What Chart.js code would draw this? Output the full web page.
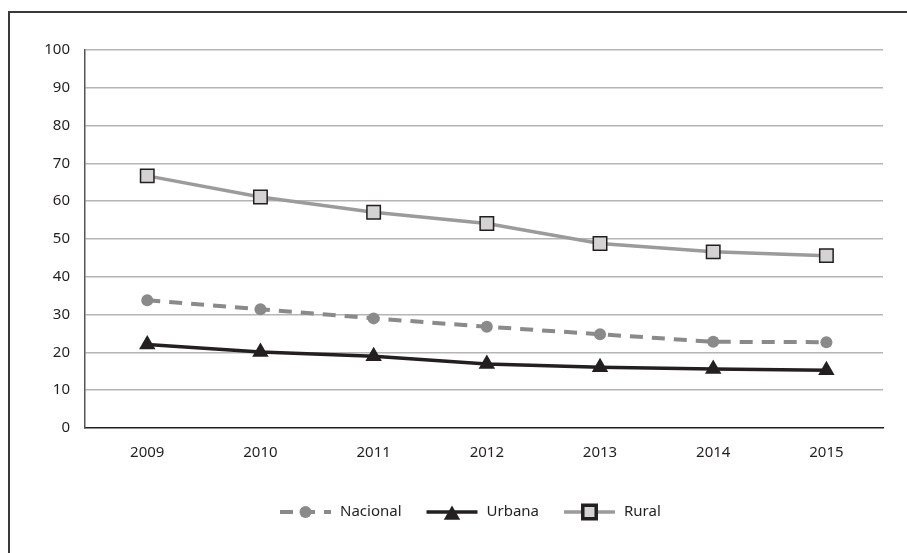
<!DOCTYPE html>
<html lang="es">
<head>
  <meta charset="UTF-8">
  <title>Nacional, Urbana, Rural 2009-2015</title>
  <script src="https://cdn.jsdelivr.net/npm/chart.js"></script>
<style>
  html, body {
    margin: 0;
    padding: 0;
    background: #fff;
  }
  .wrap {
    position: relative;
    width: 907px;
    height: 553px;
    overflow: hidden;
  }
  /* frame of the original figure, cut off on the right and bottom */
  .frame {
    position: absolute;
    left: 8px;
    top: 11px;
    width: 920px;
    height: 560px;
    border-left: 2px solid #3a3a3a;
    border-top: 2px solid #3a3a3a;
  }
  canvas {
    position: absolute;
    left: 0;
    top: 0;
  }
</style>
</head>
<body>
  <div class="wrap">
    <div class="frame"></div>
    <canvas id="chart" width="907" height="553"></canvas>
  </div>
  <script>
    // data
    const years = [2009, 2010, 2011, 2012, 2013, 2014, 2015];
    const nacional = [33.8, 31.4, 29.0, 26.8, 24.8, 22.8, 22.7];
    const urbana = [22.1, 20.1, 19.0, 16.9, 16.1, 15.6, 15.3];
    const rural = [66.7, 61.1, 57.1, 54.1, 48.8, 46.6, 45.6];
    const yTicks = [0, 10, 20, 30, 40, 50, 60, 70, 80, 90, 100];

    const font = "'Noto Sans', 'Open Sans', sans-serif";
    const ink = '#231f20';

    const toPoints = (vals) => vals.map((v, i) => ({ x: years[i], y: v }));

    // legend: short line with the marker in the middle, then the label
    const lineLegend = {
      id: 'lineLegend',
      afterDraw(chart) {
        const ctx = chart.ctx;
        const y = 512;
        let x = 280;
        ctx.save();
        ctx.font = '15px ' + font;
        ctx.textBaseline = 'middle';
        chart.data.datasets.forEach(ds => {
          const lineLen = 51;
          ctx.beginPath();
          ctx.setLineDash(ds.borderDash || []);
          ctx.strokeStyle = ds.borderColor;
          ctx.lineWidth = ds.borderWidth;
          ctx.moveTo(x, y);
          ctx.lineTo(x + lineLen, y);
          ctx.stroke();
          ctx.setLineDash([]);
          ctx.fillStyle = ds.pointBackgroundColor;
          ctx.strokeStyle = ds.pointBorderColor;
          Chart.helpers.drawPoint(ctx, {
            pointStyle: ds.pointStyle,
            radius: ds.pointRadius,
            borderWidth: ds.pointBorderWidth
          }, x + lineLen / 2, y + (ds.pointStyle === 'triangle' ? 3 : 0));
          x += lineLen + 9;
          ctx.fillStyle = ink;
          ctx.fillText(ds.label, x, y);
          x += ctx.measureText(ds.label).width + 25;
        });
        ctx.restore();
      }
    };

    new Chart(document.getElementById('chart'), {
      type: 'line',
      data: {
        datasets: [
          {
            label: 'Nacional',
            data: toPoints(nacional),
            borderColor: '#8a8a8a',
            borderWidth: 4,
            borderDash: [13, 9],
            pointStyle: 'circle',
            pointRadius: 6,
            pointBackgroundColor: '#8a8a8a',
            pointBorderColor: '#8a8a8a',
            pointBorderWidth: 0
          },
          {
            label: 'Urbana',
            data: toPoints(urbana),
            borderColor: ink,
            borderWidth: 3.5,
            pointStyle: 'triangle',
            pointRadius: 9.5,
            pointBackgroundColor: ink,
            pointBorderColor: ink,
            pointBorderWidth: 0
          },
          {
            label: 'Rural',
            data: toPoints(rural),
            borderColor: '#9b9b9b',
            borderWidth: 3.5,
            pointStyle: 'rect',
            pointRadius: 9.5,
            pointBackgroundColor: '#d3d3d3',
            pointBorderColor: ink,
            pointBorderWidth: 1.5
          }
        ]
      },
      options: {
        responsive: false,
        animation: false,
        layout: {
          padding: { left: 0, right: 24, top: 50, bottom: 0 }
        },
        plugins: {
          legend: { display: false },
          tooltip: { enabled: false }
        },
        scales: {
          x: {
            type: 'linear',
            min: 2008.45,
            max: 2015.5,
            afterBuildTicks(scale) {
              scale.ticks = years.map(v => ({ value: v }));
            },
            grid: { display: false, drawTicks: false },
            border: { display: true, color: ink, width: 1.5 },
            ticks: {
              color: ink,
              padding: 16,
              font: { family: font, size: 15 },
              callback: (v) => String(v)
            },
            afterFit(scale) { scale.height = 125; }
          },
          y: {
            min: 0,
            max: 100,
            afterBuildTicks(scale) {
              scale.ticks = yTicks.map(v => ({ value: v }));
            },
            grid: {
              color: (c) => c.tick && c.tick.value === 0 ? 'rgba(0,0,0,0)' : '#b5b5b5',
              lineWidth: 1.5,
              drawTicks: false
            },
            border: { display: true, color: '#555', width: 1.5 },
            ticks: {
              color: ink,
              padding: 15,
              font: { family: font, size: 15 }
            },
            afterFit(scale) { scale.width = 85; }
          }
        }
      },
      plugins: [lineLegend]
    });
  </script>
</body>
</html>
